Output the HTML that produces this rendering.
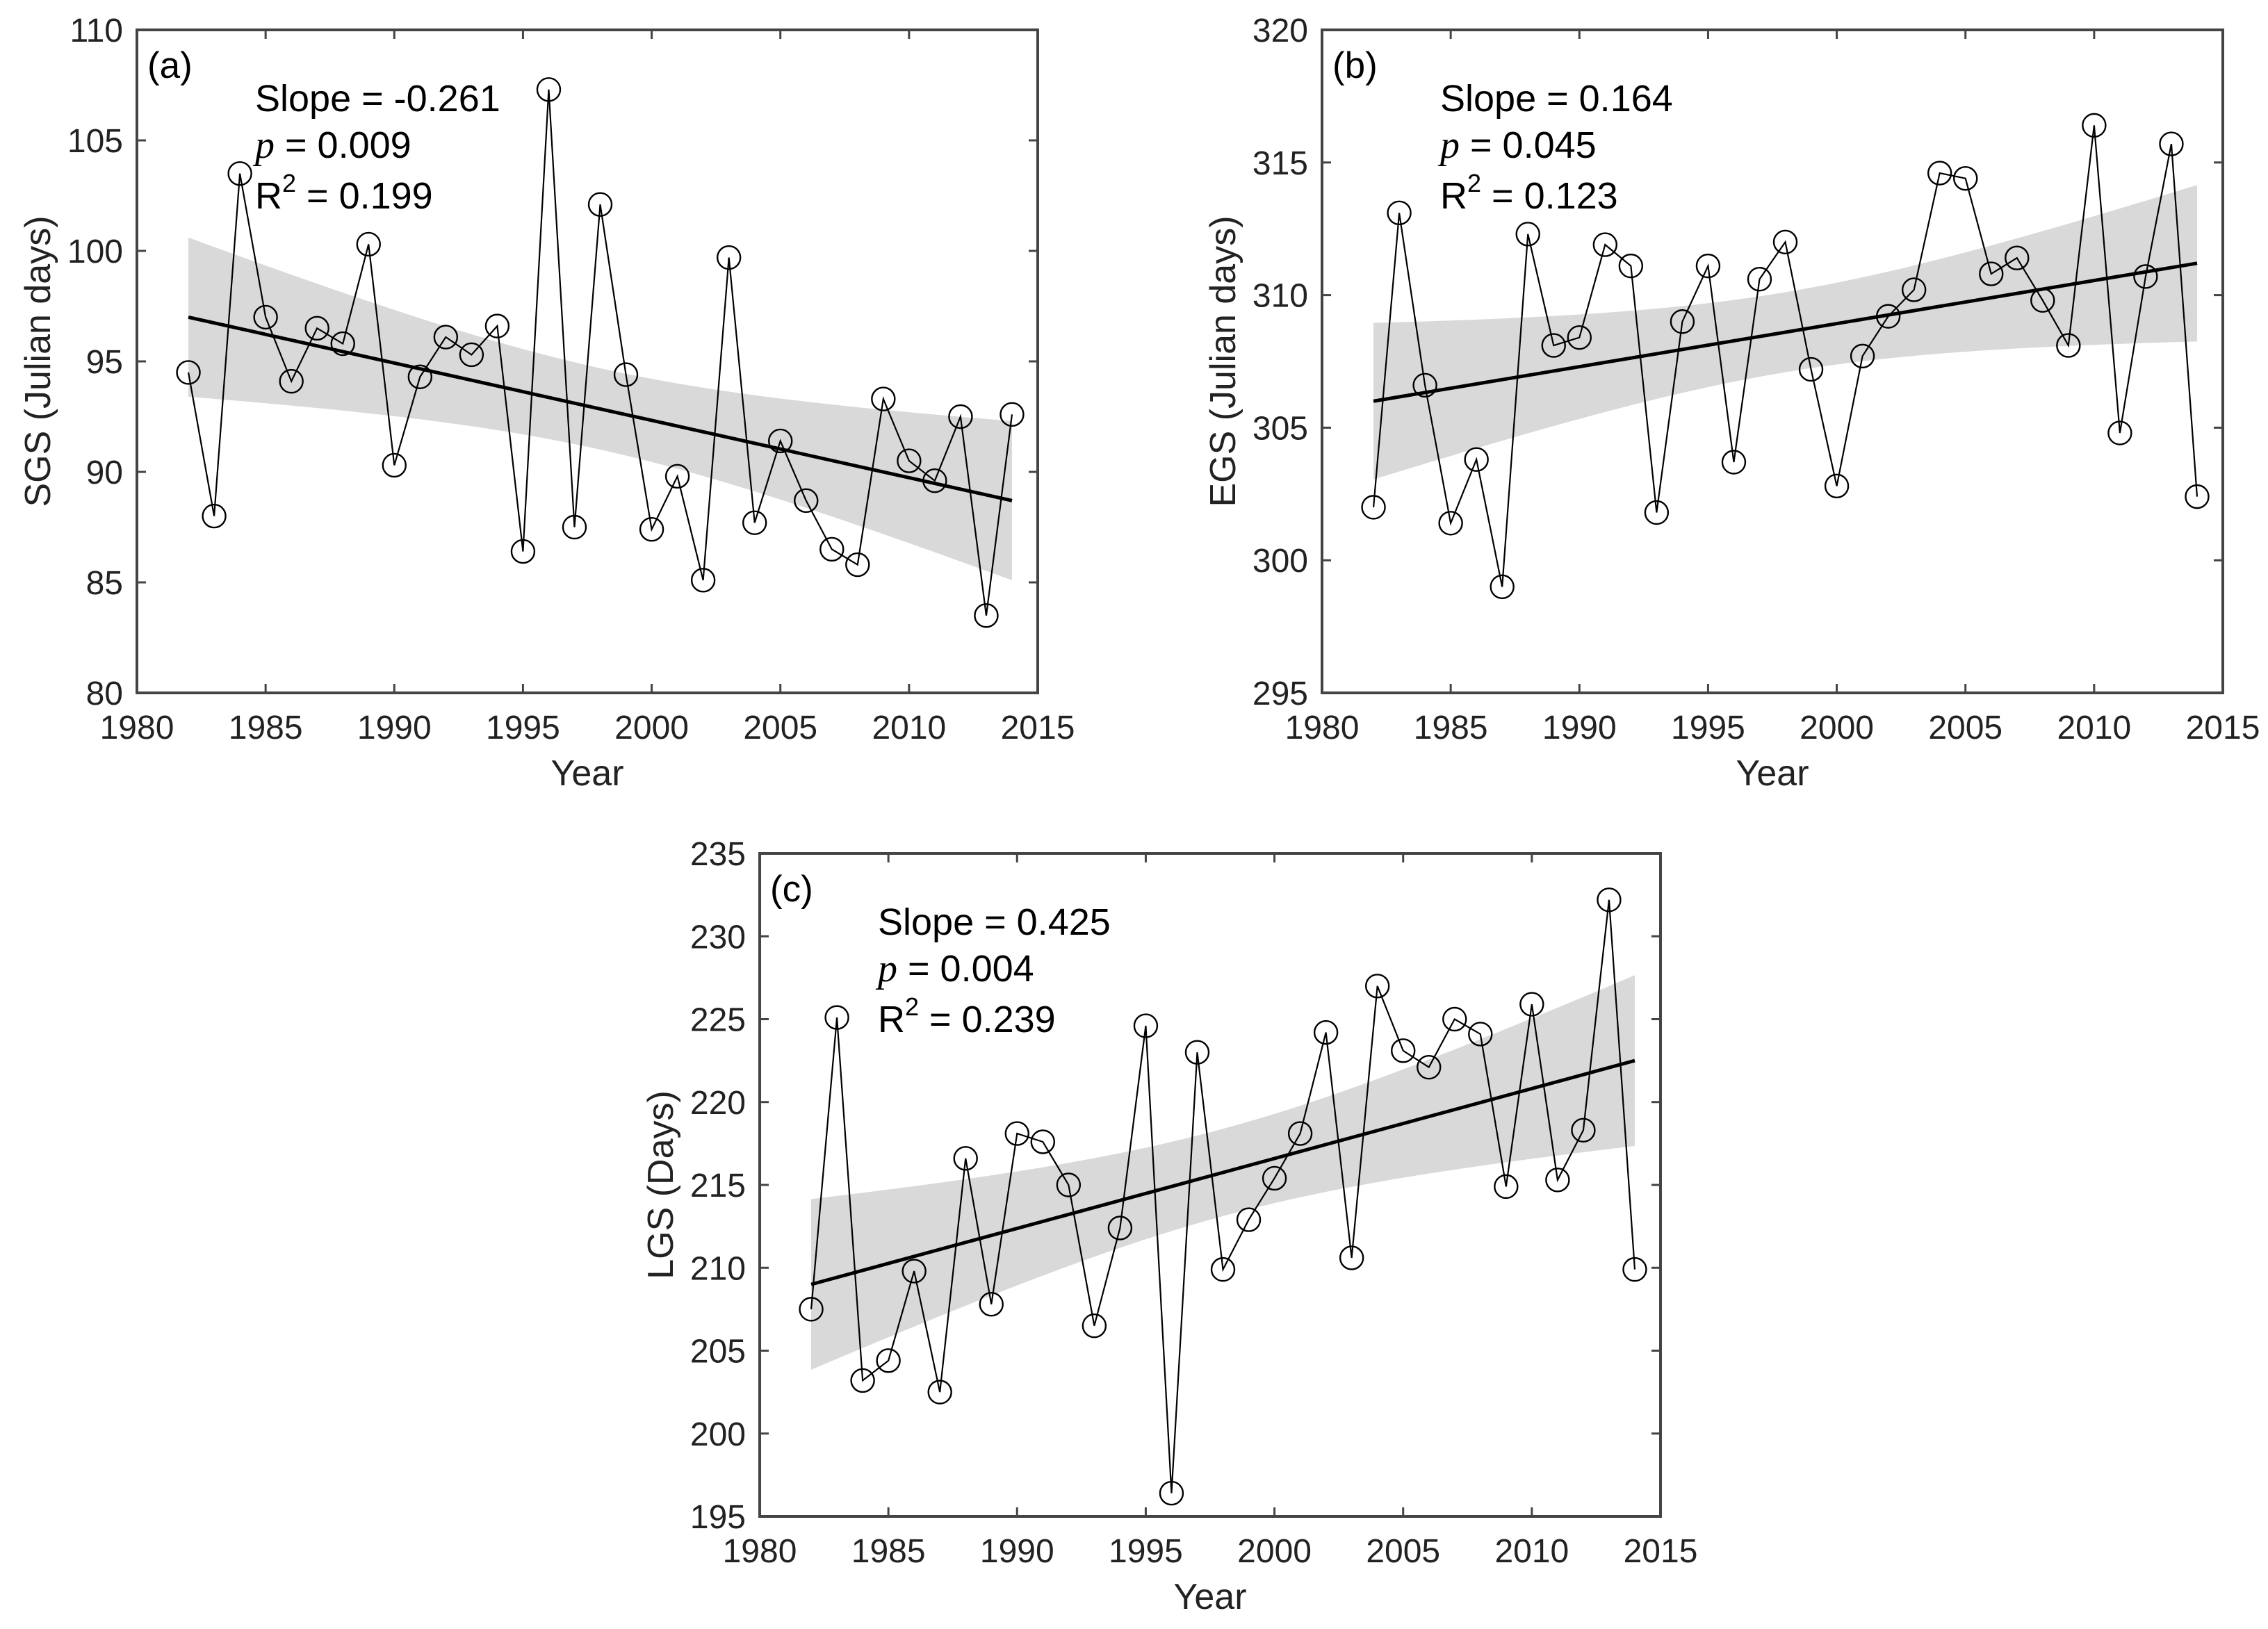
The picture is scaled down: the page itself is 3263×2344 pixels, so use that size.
<!DOCTYPE html>
<html><head><meta charset="utf-8"><style>
html,body{margin:0;padding:0;background:#fff}
svg{display:block;font-family:"Liberation Sans",Arial,sans-serif}
</style></head><body>
<svg id="fig" width="3263" height="2344" viewBox="0 0 3263 2344" xmlns="http://www.w3.org/2000/svg"></svg>
<script>
const years = [1982,1983,1984,1985,1986,1987,1988,1989,1990,1991,1992,1993,1994,1995,1996,1997,1998,1999,2000,2001,2002,2003,2004,2005,2006,2007,2008,2009,2010,2011,2012,2013,2014];
const sgsValues = [94.5,88.0,103.5,97.0,94.1,96.5,95.8,100.3,90.3,94.3,96.1,95.3,96.6,86.4,107.3,87.5,102.1,94.4,87.4,89.8,85.1,99.7,87.7,91.4,88.7,86.5,85.8,93.3,90.5,89.6,92.5,83.5,92.6];
const egsValues = [302.0,313.1,306.6,301.4,303.8,299.0,312.3,308.1,308.4,311.9,311.1,301.8,309.0,311.1,303.7,310.6,312.0,307.2,302.8,307.7,309.2,310.2,314.6,314.4,310.8,311.4,309.8,308.1,316.4,304.8,310.7,315.7,302.4];
const lgsValues = [207.5,225.1,203.2,204.4,209.8,202.5,216.6,207.8,218.1,217.6,215.0,206.5,212.4,224.6,196.4,223.0,209.9,212.9,215.4,218.1,224.2,210.6,227.0,223.1,222.1,225.0,224.1,214.9,225.9,215.3,218.3,232.2,209.9];
const xTicks = [1980,1985,1990,1995,2000,2005,2010,2015];
const sgsTicks = [80,85,90,95,100,105,110];
const egsTicks = [295,300,305,310,315,320];
const lgsTicks = [195,200,205,210,215,220,225,230,235];
const sgsTrend = [97.0,88.7];
const egsTrend = [306.0,311.2];
const lgsTrend = [209.0,222.5];
const sgsCIEnd = [3.6]; const egsCIEnd = [2.95]; const lgsCIEnd = [5.15];

const NS="http://www.w3.org/2000/svg";
const svg=document.getElementById('fig');
function mk(tag,attrs,parent){const e=document.createElementNS(NS,tag);for(const k in attrs)e.setAttribute(k,attrs[k]);(parent||svg).appendChild(e);return e;}

function panel(cfg){
  const g=mk('g',{});
  
  
  const L=cfg.L,T=cfg.T,W=1296,H=954,R=L+W,B=T+H;
  const ymin=cfg.ticks[0],ymax=cfg.ticks[cfg.ticks.length-1];
  const xs=v=>L+(v-1980)/35*W;
  const ys=v=>B-(v-ymin)/(ymax-ymin)*H;
  const n=years.length, xm=years.reduce((a,b)=>a+b,0)/n;
  let sxx=0; years.forEach(y=>sxx+=(y-xm)*(y-xm));
  const endF=Math.sqrt(1/n+(years[0]-xm)**2/sxx);
  const trendAt=y=>cfg.trend[0]+(cfg.trend[1]-cfg.trend[0])*(y-years[0])/(years[n-1]-years[0]);
  const hw=y=>cfg.ci[0]*Math.sqrt(1/n+(y-xm)**2/sxx)/endF;
  let up=[],lo=[];
  for(let i=0;i<=64;i++){const y=years[0]+(years[n-1]-years[0])*i/64;up.push(xs(y)+','+ys(trendAt(y)+hw(y)));lo.unshift(xs(y)+','+ys(trendAt(y)-hw(y)));}
  const band=mk('polygon',{points:up.concat(lo).join(' '),fill:'#d9d9d9',stroke:'none'},g);
  
  
  const pl=mk('polyline',{points:years.map((y,i)=>xs(y)+','+ys(cfg.values[i])).join(' '),fill:'none',stroke:'#000','stroke-width':2.2},g);
  
  
  const tl=mk('line',{x1:xs(years[0]),y1:ys(cfg.trend[0]),x2:xs(years[n-1]),y2:ys(cfg.trend[1]),stroke:'#000','stroke-width':5},g);
  
  
  years.forEach((y,i)=>{const c=mk('circle',{cx:xs(y),cy:ys(cfg.values[i]),r:16.5,fill:'none',stroke:'#000','stroke-width':2.4},g);
    
    });
  const box=mk('rect',{x:L,y:T,width:W,height:H,fill:'none',stroke:'#444','stroke-width':4},g);
  
  
  xTicks.forEach(t=>{const x=xs(t);
    mk('line',{x1:x,y1:B,x2:x,y2:B-13,stroke:'#444','stroke-width':3},g);
    mk('line',{x1:x,y1:T,x2:x,y2:T+13,stroke:'#444','stroke-width':3},g);
    const tx=mk('text',{x:x,y:B+66,'text-anchor':'middle','font-size':48,fill:'#222'},g);tx.textContent=t;
    
    });
  cfg.ticks.forEach(t=>{const y=ys(t);
    mk('line',{x1:L,y1:y,x2:L+13,y2:y,stroke:'#444','stroke-width':3},g);
    mk('line',{x1:R,y1:y,x2:R-13,y2:y,stroke:'#444','stroke-width':3},g);
    const tx=mk('text',{x:L-20,y:y+17,'text-anchor':'end','font-size':48,fill:'#222'},g);tx.textContent=t;
    
    });
  const xl=mk('text',{x:L+W/2,y:B+133,'text-anchor':'middle','font-size':52,fill:'#222'},g);xl.textContent='Year';
  
  
  const yl=mk('text',{x:0,y:0,'text-anchor':'middle','font-size':52,fill:'#222',transform:`translate(${L-125},${T+H/2}) rotate(-90)`},g);yl.textContent=cfg.ylabel;
  
  
  const pt=mk('text',{x:L+15,y:T+69,'font-size':53,fill:'#000'},g);pt.textContent=cfg.tag;
  
  
  const s1=mk('text',{x:L+170,y:T+117,'font-size':54,fill:'#000'},g);s1.textContent='Slope = '+cfg.slope;
  
  
  const s2=mk('text',{x:L+170,y:T+184,'font-size':54,fill:'#000'},g);
  s2.innerHTML='<tspan font-family="Liberation Serif,serif" font-style="italic" font-size="56">p</tspan> = '+cfg.p;
  
  
  const s3=mk('text',{x:L+170,y:T+257,'font-size':54,fill:'#000'},g);
  s3.innerHTML='R<tspan font-size="36" dy="-24">2</tspan><tspan dy="24"> = '+cfg.r2+'</tspan>';
  
  
}
panel({name:'panel-a-sgs',L:197,T:43,values:sgsValues,ticks:sgsTicks,trend:sgsTrend,ci:sgsCIEnd,ylabel:'SGS (Julian days)',tag:'(a)',slope:'-0.261',p:'0.009',r2:'0.199'});
panel({name:'panel-b-egs',L:1902,T:43,values:egsValues,ticks:egsTicks,trend:egsTrend,ci:egsCIEnd,ylabel:'EGS (Julian days)',tag:'(b)',slope:'0.164',p:'0.045',r2:'0.123'});
panel({name:'panel-c-lgs',L:1093,T:1228,values:lgsValues,ticks:lgsTicks,trend:lgsTrend,ci:lgsCIEnd,ylabel:'LGS (Days)',tag:'(c)',slope:'0.425',p:'0.004',r2:'0.239'});
</script>
</body></html>
